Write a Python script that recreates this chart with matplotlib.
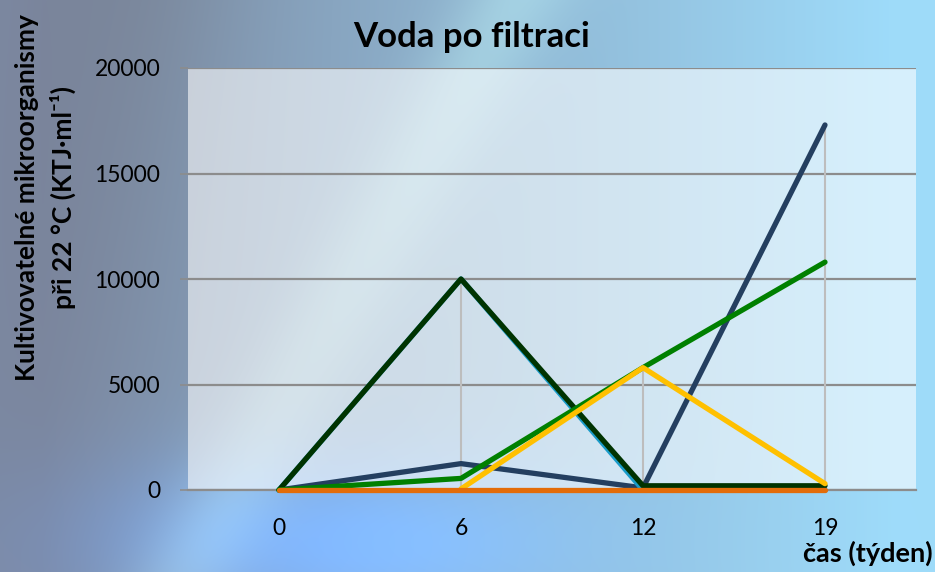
import matplotlib
matplotlib.use("Agg")
import matplotlib.pyplot as plt
import numpy as np

plt.rcParams['font.family'] = ['Lato', 'DejaVu Sans']

# data
weeks = ['0', '6', '12', '19']
navy = [0, 1250, 100, 17300]
green = [0, 550, 5800, 10800]
teal = [0, 10000, 0, 0]
dark_green = [0, 10000, 200, 200]
yellow = [np.nan, 50, 5800, 300]
orange = [0, 0, 0, 0]

series = [
    (navy, '#243F60'),
    (teal, '#1A9BC9'),
    (dark_green, '#003300'),
    (green, '#008000'),
    (yellow, '#FFC000'),
    (orange, '#E36C09'),
]

W, H = 935, 572
fig = plt.figure(figsize=(W / 100, H / 100), dpi=100)

# background picture (soft blue gradient with diagonal streaks)
bg = fig.add_axes([0, 0, 1, 1])
yy, xx = np.mgrid[0:1:H * 1j, 0:1:W * 1j]
left_col = np.array([0.49, 0.54, 0.64])
right_col = np.array([0.62, 0.86, 0.98])
t = np.clip(xx * 1.1 - 0.05, 0, 1)[..., None]
img = left_col * (1 - t) + right_col * t
streak = np.exp(-((xx - 0.55 + yy * 0.35) / 0.06) ** 2)
img = img + streak[..., None] * np.array([0.08, 0.10, 0.06])
dark = np.exp(-((xx - 0.15 + yy * 0.1) / 0.12) ** 2) * (1 - yy)
img = img - dark[..., None] * np.array([0.02, 0.04, 0.06])
blue = np.exp(-(((xx - 0.35) / 0.25) ** 2 + ((yy - 0.95) / 0.15) ** 2))
img = img + blue[..., None] * np.array([-0.02, 0.08, 0.25])
bg.imshow(np.clip(img, 0, 1), aspect='auto', extent=(0, 1, 0, 1), origin='upper')
bg.axis('off')

ax = fig.add_axes([188 / W, 1 - 490 / H, 728 / W, 422 / H])
ax.set_facecolor((1, 1, 1, 0.58))
x = np.arange(len(weeks))

# drop lines
vals = np.array([s for s, _ in series], dtype=float)
tops = np.nanmax(vals, axis=0)
ax.vlines(x, 0, tops, color='#BDBDBD', lw=1.5, zorder=2)

for i, (s, c) in enumerate(series):
    ax.plot(x, s, color=c, lw=3.8, solid_capstyle='round', zorder=3 + i,
            clip_on=False)

ax.set_xlim(-0.5, 3.5)
ax.set_ylim(0, 20000)
ax.set_yticks([0, 5000, 10000, 15000, 20000])
ax.set_xticks(x)
ax.set_xticklabels(weeks)
ax.yaxis.grid(True, color='#8C8C8C', lw=1.6, zorder=1)
ax.set_axisbelow(True)
for side in ['top', 'right', 'left']:
    ax.spines[side].set_visible(False)
ax.spines['bottom'].set_color('#8C8C8C')
ax.spines['bottom'].set_linewidth(1.6)
ax.spines['bottom'].set_zorder(2)
ax.tick_params(axis='y', length=6, color='#8C8C8C', width=1.2, labelsize=16.5, pad=14)
ax.tick_params(axis='x', length=0, labelsize=16.5, pad=20)

fig.text(0.504, 0.935, 'Voda po filtraci', ha='center', va='center',
         fontsize=25, fontweight='bold')
fig.text(0.049, 0.655, 'Kultivovatelné mikroorganismy\npři 22 °C (KTJ·ml\u207b\u00b9)',
         rotation=90, ha='center', va='center', fontsize=19, fontweight='bold',
         linespacing=1.5)
fig.text(0.997, 0.033, 'čas (týden)', ha='right', va='center', fontsize=19.5,
         fontweight='bold')

fig.savefig('out.png', dpi=100)
